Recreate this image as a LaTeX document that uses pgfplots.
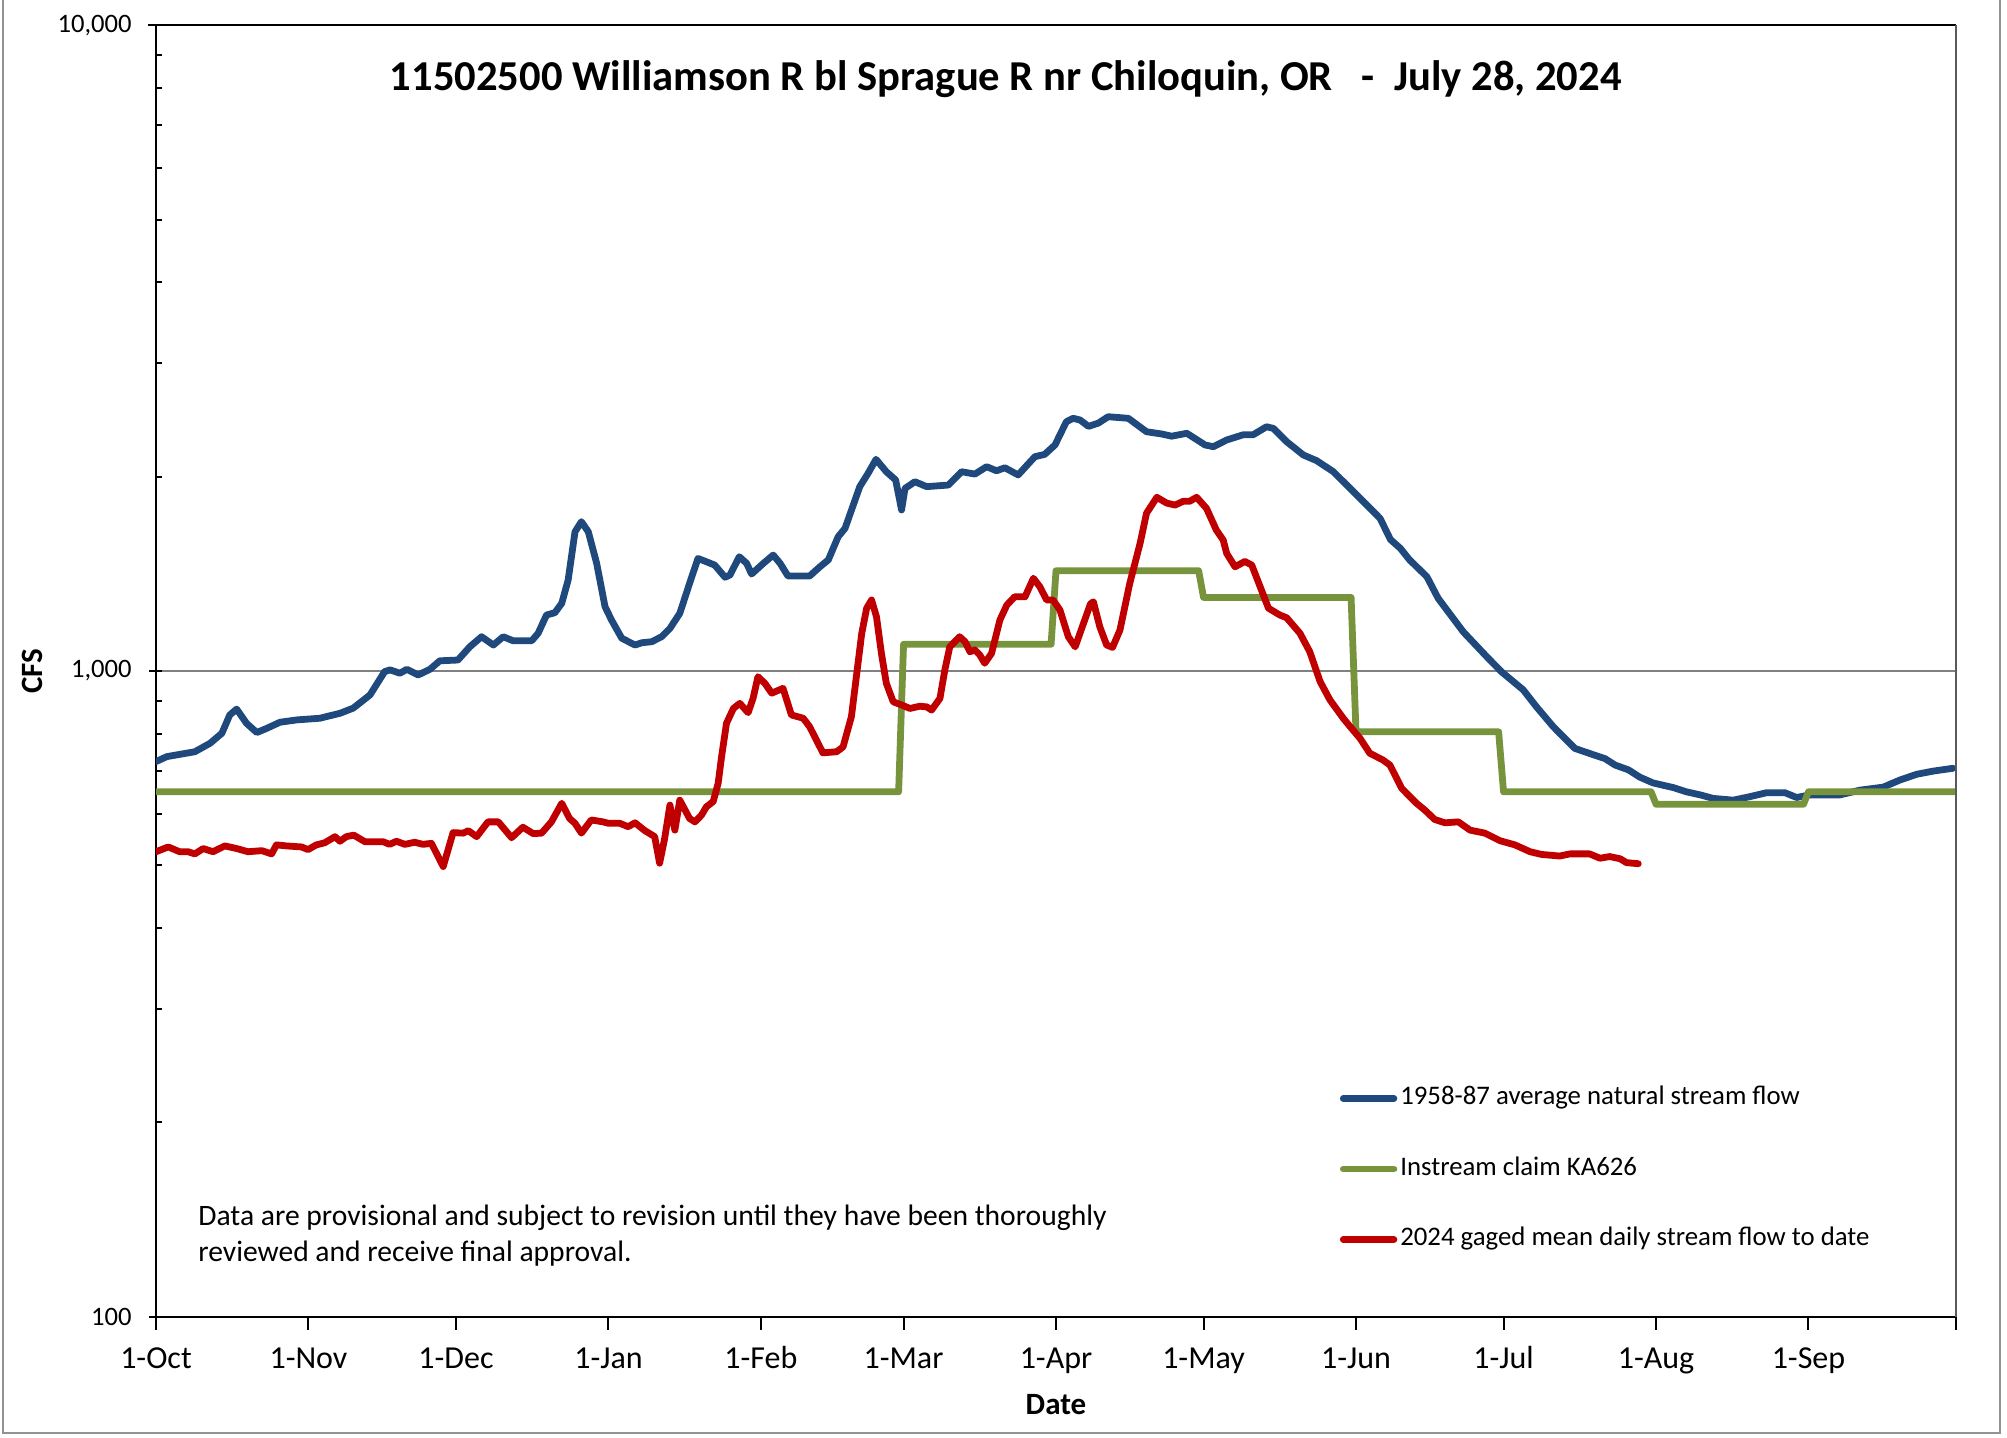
\documentclass[border=0pt]{standalone}
\usepackage{pgfplots}
\pgfplotsset{compat=1.18}
\usepackage{fontspec}
\setmainfont{Carlito}
\definecolor{cblue}{HTML}{1F497D}
\definecolor{cgreen}{HTML}{77933C}
\definecolor{cred}{HTML}{C00000}
\begin{document}
\begin{tikzpicture}
\path[use as bounding box] (0,0) rectangle (1003.5pt,-718.5pt);
\draw[gray!85, line width=1.2pt] (1.5pt,0) -- (1.5pt,-716.5pt) -- (1000pt,-716.5pt) -- (1000pt,0);
\begin{axis}[
  at={(78pt,-658.4pt)}, anchor=south west,
  scale only axis, width=900pt, height=645.8pt,
  clip mode=individual,
  xmin=0, xmax=366, ymode=log, ymin=100, ymax=10000,
  axis lines*=left,
  axis line style={black, line width=1.1pt},
  tick align=inside,
  major tick length=6.5pt, minor tick length=3pt,
  tick style={black, line width=1pt},
  major x tick style={yshift=-6.5pt},
  major y tick style={xshift=-3.5pt},
  xtick={0,31,61,92,123,152,183,213,244,274,305,336,366},
  xticklabels={1-Oct,1-Nov,1-Dec,1-Jan,1-Feb,1-Mar,1-Apr,1-May,1-Jun,1-Jul,1-Aug,1-Sep,{}},
  xticklabel style={font=\fontsize{16}{19}\selectfont, anchor=base, yshift=-25.8pt},
  ytick={100,1000,10000},
  yticklabels={100,{1,000},{10,000}},
  minor ytick={200,300,400,500,600,700,800,900,2000,3000,4000,5000,6000,7000,8000,9000},
  yticklabel style={font=\fontsize{13.3}{16}\selectfont, anchor=east, inner sep=0pt, xshift=-12pt},
  ymajorgrids, major grid style={gray, line width=1pt},
  xlabel={\textbf{Date}},
  xlabel style={font=\fontsize{15.5}{18}\selectfont, at={(axis description cs:0.5,-0.0683)}, anchor=center},
  ylabel={\textbf{CFS}},
  ylabel style={font=\fontsize{15.5}{18}\selectfont, at={(axis description cs:-0.0689,0.5)}, anchor=center},
  legend style={at={(rel axis cs:0.6575,0.181)}, anchor=north west, draw=none, fill=none,
    font=\fontsize{13.4}{16}\selectfont, row sep=20.3pt, inner sep=0pt,
    nodes={inner sep=1.5pt, text height=9pt, text depth=3pt}},
  legend cell align=left,
  legend image code/.code={\draw[#1] (0pt,0pt) -- (25.3pt,0pt);},
]
\addplot[cblue, line width=3.4pt, line join=round, line cap=round, mark=none] coordinates {
(0,724) (2.2,737) (7.9,750) (11,773) (13.4,801) (15,855) (16.4,873) (18.4,830) (20.5,803) (22.5,815) (25.2,833) (28.6,840) (33.3,845) (37.4,860) (40.1,876) (43.5,918) (46.5,998) (47.6,1004) (49.6,992) (51,1006) (53.3,986) (55.7,1006) (57.7,1037) (61.4,1040) (63.8,1090) (66.2,1130) (68.6,1097) (70.6,1130) (72.6,1114) (76.4,1114) (77.7,1144) (79.4,1221) (81.1,1231) (82.5,1273) (83.8,1383) (85.2,1643) (86.5,1703) (87.9,1643) (89.6,1468) (91.3,1258) (92.6,1200) (94.7,1124) (97.4,1097) (98.8,1106) (100.8,1110) (102.8,1130) (104.5,1164) (106.5,1228) (108.5,1367) (110.2,1494) (113.6,1459) (115.7,1397) (116.7,1408) (118.6,1503) (120.1,1468) (121.1,1413) (123.5,1468) (125.5,1512) (126.9,1468) (128.5,1403) (132.9,1403) (135,1450) (136.7,1486) (138.7,1614) (140.1,1663) (143.1,1930) (144.8,2024) (146.4,2127) (148.5,2035) (150.4,1976) (151.6,1776) (152.3,1918) (154.3,1964) (156.7,1930) (161.1,1941) (163.8,2035) (166.5,2018) (168.9,2072) (170.9,2042) (172.6,2064) (175.3,2012) (178.7,2147) (180.7,2165) (182.8,2239) (185.1,2432) (186.5,2462) (187.9,2447) (189.6,2392) (191.6,2420) (193.6,2476) (197.7,2462) (201.4,2347) (204.5,2328) (206.5,2310) (209.6,2334) (213.3,2239) (215,2225) (217.7,2279) (221.1,2322) (223.1,2322) (225.8,2389) (227.2,2375) (229.9,2265) (233.3,2160) (236,2117) (239.4,2035) (242.8,1918) (246.2,1807) (248.9,1723) (251,1598) (253,1549) (254.9,1486) (258.4,1400) (260.7,1296) (265.8,1150) (270.6,1052) (273.6,997) (278,935) (280.7,880) (284.1,820) (288.5,759) (290.9,748) (294.6,732) (296.7,715) (299.4,703) (301.7,685) (304.4,671) (308.5,660) (311.2,650) (314,643) (316.6,635) (320.7,631) (324.1,639) (327.5,648) (331.2,648) (333.6,637) (336.3,643) (342.4,643) (346.5,654) (351.2,661) (354.6,678) (358,692) (361.4,700) (365.4,707)
};
\addlegendentry{1958-87 average natural stream flow}
\addplot[cgreen, line width=3.4pt, line join=round, line cap=round, mark=none] coordinates {
(0,650) (151,650) (152,1100) (182,1100) (183,1430) (212,1430) (213,1300) (243,1300) (244,805) (273,805) (274,650) (304,650) (305,622) (335,622) (336,650) (366,650)
};
\addlegendentry{Instream claim KA626}
\addplot[cred, line width=3.4pt, line join=round, line cap=round, mark=none] coordinates {
(0,525) (2.5,534) (4.8,525) (6.5,525) (7.9,521) (9.6,531) (11.6,525) (14,536) (16.4,531) (18.7,525) (21.5,527) (23.5,521) (24.5,538) (26.5,536) (29.6,534) (30.9,529) (32.6,538) (34.3,542) (36.4,554) (37.4,545) (38.7,554) (40.2,557) (42.5,544) (46.2,544) (47.5,539) (48.9,545) (50.6,539) (52.6,543) (54.3,539) (56,541) (58.4,498) (60.4,562) (62.5,561) (63.5,566) (65.2,554) (67.5,584) (69.6,584) (72.3,552) (74.6,573) (76.7,560) (78.4,561) (80.4,584) (82.5,624) (84.1,591) (85.2,581) (86.5,561) (88.5,588) (90.9,584) (92,581) (94.3,581) (96,574) (97.4,582) (99.4,566) (101.4,554) (102.4,504) (103.4,549) (104.5,620) (105.5,567) (106.5,631) (108.5,591) (109.6,584) (110.9,598) (111.9,616) (113.3,628) (114.3,670) (115,737) (116,830) (117.4,875) (118.7,891) (120.4,862) (121.4,907) (122.4,980) (123.8,957) (125.2,924) (127.5,940) (129.2,855) (131.6,845) (132.9,820) (135.6,747) (138.4,750) (139.7,763) (141.4,850) (143.5,1144) (144.5,1251) (145.5,1288) (146.5,1213) (147.5,1065) (148.5,957) (149.9,896) (151.6,886) (153.3,875) (155.3,882) (156.7,880) (157.7,870) (159.4,907) (160.4,1004) (161.4,1090) (163.4,1130) (164.5,1110) (165.5,1071) (166.5,1078) (167.5,1059) (168.5,1028) (169.9,1065) (171.6,1200) (173,1265) (174.6,1303) (176.7,1303) (178.4,1392) (179.7,1351) (181.1,1288) (182.4,1288) (183.8,1243) (185.5,1130) (186.9,1090) (188.5,1180) (190,1270) (190.6,1280) (191.9,1171) (193.3,1097) (194.5,1088) (196,1157) (198,1367) (200.1,1577) (201.4,1755) (203.5,1858) (205.5,1820) (207.2,1807) (208.9,1832) (210.2,1832) (211.6,1858) (213.6,1786) (215.6,1653) (217,1595) (217.7,1521) (219.4,1450) (221.4,1478) (222.8,1459) (224.5,1351) (226.2,1251) (228.5,1221) (229.9,1209) (232.6,1144) (234.6,1071) (236.7,963) (238.7,902) (241.4,845) (242.8,820) (244.8,787) (246.8,746) (249.5,728) (250.9,715) (253.3,658) (256.3,624) (258,609) (260,589) (262.1,582) (264.8,584) (267.2,567) (270.2,561) (273.3,546) (276.3,538) (279.4,525) (281.7,520) (285.4,517) (287.5,521) (289.9,521) (291.5,521) (293.6,513) (295.6,516) (297.7,512) (299,505) (301.4,503)
};
\addlegendentry{2024 gaged mean daily stream flow to date}
\node[font=\fontsize{21.3}{25}\selectfont\bfseries, anchor=center] at (rel axis cs:0.472,0.958) {11502500 Williamson R bl Sprague R nr Chiloquin, OR\ \ \ -\ \ July 28, 2024};
\node[font=\fontsize{14.8}{18}\selectfont, anchor=west, align=left, inner sep=0pt] at (rel axis cs:0.0233,0.0626) {Data are provisional and subject to revision until they have been thoroughly\\reviewed and receive final approval.};
\end{axis}
\draw[black, line width=1.1pt] (74pt,-12.6pt) -- (978pt,-12.6pt);
\draw[black!65, line width=1.1pt] (978pt,-12.6pt) -- (978pt,-658.4pt);
\draw[black, line width=1pt] (978pt,-658.4pt) -- (978pt,-664.9pt);
\end{tikzpicture}
\end{document}
